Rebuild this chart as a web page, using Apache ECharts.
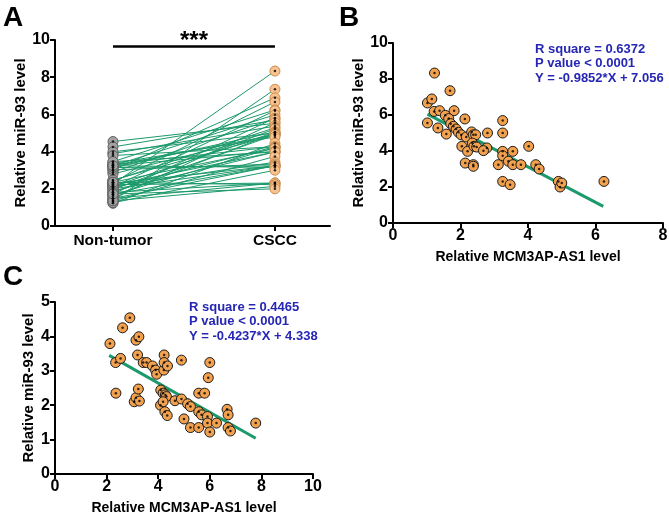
<!DOCTYPE html>
<html lang="en">
<head>
    <meta charset="UTF-8">
    <script src="https://cdn.jsdelivr.net/npm/echarts@6/dist/echarts.min.js"></script>
    <style>
        html, body { margin: 0; padding: 0; background: #fff; }
    </style>
</head>
<body>
    <div id="main" style="width: 669px; height: 517px;"></div>

    <script>
        // Panel A: paired values (Non-tumor -> CSCC)
        var aCategories = ['Non-tumor', 'CSCC'];
        var aNonTumor = [2.25, 1.35, 3.02, 2.35, 3.46, 4.54, 2.10, 3.24, 1.72, 2.90,
                         4.25, 1.48, 3.89, 2.44, 1.96, 3.14, 2.13, 3.99, 1.60, 2.80,
                         3.24, 1.81, 2.47, 3.36, 1.22, 3.79, 2.04, 3.31, 1.67, 2.35,
                         3.24, 1.88, 2.18, 3.46, 1.35, 2.12, 3.02, 1.48, 2.30, 3.14,
                         1.70, 2.00, 3.24, 1.25, 2.22, 1.81, 1.48, 2.35, 1.35, 1.72];
        var aCscc = [8.33, 7.35, 6.89, 6.67, 6.24, 5.52, 6.20, 5.98, 5.80, 5.78,
                     5.69, 5.56, 5.37, 5.28, 5.22, 5.06, 5.04, 5.00, 5.00, 4.94,
                     4.90, 4.90, 4.90, 4.78, 4.44, 4.26, 4.26, 4.26, 4.22, 4.17,
                     4.02, 3.98, 3.98, 3.98, 3.74, 3.43, 3.33, 3.24, 3.24, 3.24,
                     3.24, 3.24, 3.15, 3.00, 2.31, 2.31, 2.31, 2.22, 2.13, 2.00];

        // Panel B: MCM3AP-AS1 vs miR-93 (CSCC)
        var bX = [1.23, 1.02, 1.15, 1.02, 1.22, 1.38, 1.33, 1.58, 1.69, 1.81,
                  1.55, 1.65, 1.71, 1.79, 1.87, 1.94, 2.02, 2.13, 2.04, 2.14,
                  2.21, 2.17, 2.33, 2.38, 2.45, 2.35, 2.40, 2.48, 2.38, 2.38,
                  2.80, 2.78, 2.68, 3.12, 3.25, 3.25, 3.25, 3.25, 3.25, 3.47,
                  3.42, 3.55, 3.55, 3.79, 4.02, 4.23, 4.33, 4.90, 4.95, 5.00, 6.25];
        var bY = [8.33, 6.67, 6.89, 5.56, 6.20, 6.24, 5.28, 4.94, 7.35, 6.24,
                  5.98, 5.80, 5.52, 5.37, 5.22, 5.04, 4.90, 5.78, 4.26, 3.33,
                  3.98, 4.78, 5.06, 4.90, 4.90, 4.44, 4.26, 4.22, 3.24, 3.15,
                  5.00, 4.17, 4.02, 3.24, 5.69, 5.00, 3.98, 3.74, 2.31, 2.13,
                  3.43, 3.24, 3.98, 3.24, 4.26, 3.24, 3.00, 2.31, 2.00, 2.22, 2.31];
        var bFit = [[1.02, 6.05], [6.23, 0.92]];
        var bStats = ['R square = 0.6372', 'P value < 0.0001', 'Y = -0.9852*X + 7.056'];

        // Panel C: MCM3AP-AS1 vs miR-93 (Non-tumor)
        var cX = [2.13, 2.90, 2.62, 2.35, 2.54, 2.36, 3.14, 3.25, 3.20, 3.42,
                  3.07, 3.14, 3.27, 3.23, 3.55, 3.78, 3.90, 3.94, 4.22, 4.23,
                  4.23, 4.36, 4.10, 4.19, 4.28, 4.32, 4.09, 4.19, 4.26, 4.35,
                  4.65, 4.90, 4.90, 5.00, 5.14, 5.25, 5.25, 5.57, 5.80, 5.57,
                  5.68, 5.57, 5.94, 6.00, 5.91, 5.91, 6.00, 6.26, 6.67, 6.71,
                  6.71, 6.80, 7.78];
        var cY = [3.79, 4.54, 4.25, 3.24, 3.36, 2.35, 3.89, 3.99, 3.46, 3.24,
                  2.10, 2.22, 2.12, 2.47, 3.24, 3.14, 3.02, 2.90, 3.02, 3.46,
                  3.24, 3.14, 2.44, 2.35, 2.30, 2.25, 2.00, 2.10, 1.81, 1.70,
                  2.13, 3.31, 2.18, 1.60, 2.04, 1.96, 1.35, 2.35, 2.35, 1.81,
                  1.72, 1.35, 2.80, 3.24, 1.67, 1.48, 1.22, 1.48, 1.88, 1.72,
                  1.35, 1.25, 1.48];
        var cFit = [[2.10, 3.45], [7.78, 1.04]];
        var cStats = ['R square = 0.4465', 'P value < 0.0001', 'Y = -0.4237*X + 4.338'];

        var FONT = "'Liberation Sans', Arial, sans-serif";
        var GREEN = '#1c9a6b';
        var BLUE = '#2626b4';

        function valueAxis(grid, min, max, interval, name, nameGap, extra) {
            var ax = {
                type: 'value',
                gridIndex: grid,
                min: min,
                max: max,
                interval: interval,
                name: name,
                nameLocation: 'middle',
                nameGap: nameGap,
                nameTextStyle: { fontFamily: FONT, fontWeight: 'bold', fontSize: 15, color: '#000' },
                splitLine: { show: false },
                axisLine: { show: true, onZero: false, lineStyle: { color: '#000', width: 2 } },
                axisTick: { show: true, inside: false, length: 5, lineStyle: { color: '#000', width: 2 } },
                axisLabel: { fontFamily: FONT, fontWeight: 'bold', fontSize: 16, color: '#000', margin: 5 }
            };
            if (extra) {
                for (var k in extra) ax[k] = extra[k];
            }
            return ax;
        }

        function zip(xs, ys) {
            return xs.map(function (x, i) { return [x, ys[i]]; });
        }

        function dots(grid, data) {
            return {
                type: 'scatter',
                xAxisIndex: grid,
                yAxisIndex: grid,
                data: data,
                symbol: 'circle',
                symbolSize: 2.5,
                silent: true,
                itemStyle: { color: '#000' },
                z: 5
            };
        }

        function statsText(lines, left, top) {
            return {
                type: 'text',
                left: left,
                top: top,
                style: {
                    text: lines.join('\n'),
                    fontFamily: FONT,
                    fontWeight: 'bold',
                    fontSize: 13,
                    lineHeight: 14.5,
                    fill: BLUE
                }
            };
        }

        function letter(ch, left, top) {
            return {
                type: 'text',
                left: left,
                top: top,
                style: { text: ch, fontFamily: FONT, fontWeight: 'bold', fontSize: 28, fill: '#000' }
            };
        }

        var chart = echarts.init(document.getElementById('main'));

        var nonTumorPts = aNonTumor.map(function (v) { return [0, v]; });
        var csccPts = aCscc.map(function (v) { return [1, v]; });
        var pairLines = aNonTumor.map(function (v, i) { return { coords: [[0, v], [1, aCscc[i]]] }; });
        var bPts = zip(bX, bY);
        var cPts = zip(cX, cY);

        chart.setOption({
            animation: false,
            backgroundColor: '#fff',
            grid: [
                { left: 55, top: 40, width: 275, height: 186, containLabel: false, outerBoundsMode: 'none' },
                { left: 393, top: 43, width: 270, height: 180, containLabel: false, outerBoundsMode: 'none' },
                { left: 55, top: 302, width: 258, height: 172, containLabel: false, outerBoundsMode: 'none' }
            ],
            xAxis: [
                valueAxis(0, -0.358, 1.34, null, '', 0, {
                    axisTick: { show: true, length: 5, customValues: [0, 1], lineStyle: { color: '#000', width: 2 } },
                    axisLabel: {
                        customValues: [0, 1], margin: 7,
                        fontFamily: FONT, fontWeight: 'bold', fontSize: 15.5, color: '#000',
                        formatter: function (v) { return aCategories[Math.round(v)]; }
                    }
                }),
                valueAxis(1, 0, 8, 2, 'Relative MCM3AP-AS1 level', 27, { nameTextStyle: { fontFamily: FONT, fontWeight: 'bold', fontSize: 14, color: '#000' } }),
                valueAxis(2, 0, 10, 2, 'Relative MCM3AP-AS1 level', 27, { nameTextStyle: { fontFamily: FONT, fontWeight: 'bold', fontSize: 14, color: '#000' } })
            ],
            yAxis: [
                valueAxis(0, 0, 10, 2, 'Relative miR-93 level', 27),
                valueAxis(1, 0, 10, 2, 'Relative miR-93 level', 25),
                valueAxis(2, 0, 5, 1, 'Relative miR-93 level', 19)
            ],
            graphic: [
                letter('A', 3, 4),
                letter('B', 339, 4),
                letter('C', 3, 263),
                statsText(bStats, 535, 42),
                statsText(cStats, 189, 300)
            ],
            series: [
                {
                    type: 'lines',
                    coordinateSystem: 'cartesian2d',
                    xAxisIndex: 0,
                    yAxisIndex: 0,
                    data: pairLines,
                    silent: true,
                    lineStyle: { color: GREEN, width: 1, opacity: 1 },
                    markLine: {
                        silent: true,
                        symbol: 'none',
                        lineStyle: { color: '#000', width: 2.5, type: 'solid' },
                        label: {
                            show: true, position: 'middle', formatter: '***', distance: -7,
                            fontFamily: FONT, fontWeight: 'bold', fontSize: 24, color: '#000'
                        },
                        data: [[{ coord: [0, 9.68] }, { coord: [1, 9.68] }]]
                    }
                },
                {
                    type: 'scatter', xAxisIndex: 0, yAxisIndex: 0, data: nonTumorPts,
                    symbolSize: 10, z: 3,
                    itemStyle: { color: '#a3a3a3', borderColor: '#5f5f5f', borderWidth: 1, opacity: 1 }
                },
                {
                    type: 'scatter', xAxisIndex: 0, yAxisIndex: 0, data: csccPts,
                    symbolSize: 10, z: 3,
                    itemStyle: { color: '#f8c38e', borderColor: '#c98c4e', borderWidth: 1, opacity: 1 }
                },
                dots(0, nonTumorPts),
                dots(0, csccPts),
                {
                    type: 'line', xAxisIndex: 1, yAxisIndex: 1, data: bFit, symbol: 'none',
                    lineStyle: { color: GREEN, width: 3 }, z: 2, silent: true
                },
                {
                    type: 'scatter', xAxisIndex: 1, yAxisIndex: 1, data: bPts,
                    symbolSize: 10, z: 3,
                    itemStyle: { color: '#f2a24f', borderColor: '#1a1a1a', borderWidth: 1, opacity: 1 }
                },
                dots(1, bPts),
                {
                    type: 'line', xAxisIndex: 2, yAxisIndex: 2, data: cFit, symbol: 'none',
                    lineStyle: { color: GREEN, width: 3 }, z: 2, silent: true
                },
                {
                    type: 'scatter', xAxisIndex: 2, yAxisIndex: 2, data: cPts,
                    symbolSize: 10, z: 3,
                    itemStyle: { color: '#f2a24f', borderColor: '#1a1a1a', borderWidth: 1, opacity: 1 }
                },
                dots(2, cPts)
            ]
        });
    </script>
</body>
</html>
